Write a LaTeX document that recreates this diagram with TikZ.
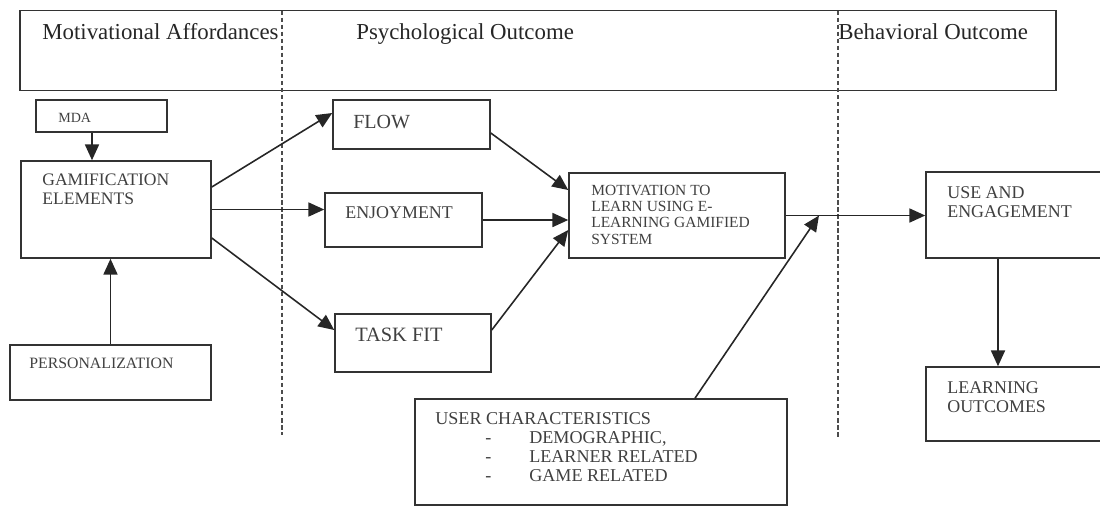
\documentclass[tikz,border=0pt]{standalone}
\usepackage{fontspec}
\setmainfont{Liberation Serif}
\usetikzlibrary{arrows.meta}
\begin{document}
\begin{tikzpicture}[x=0.02cm, y=-0.02cm,
  box/.style={draw=black!80, line width=0.9pt, rectangle, inner sep=0pt},
  txt/.style={anchor=north west, inner sep=0pt, align=left, text=black!75},
  headtxt/.style={anchor=base west, inner sep=0pt, text=black!85, font=\fontsize{13}{15}\selectfont},
  conn/.style={draw=black!85, line width=0.9pt, -{Triangle[length=9pt, width=8pt]}},
  divider/.style={draw=black!70, line width=0.8pt, dash pattern=on 2.5pt off 1.5pt},
  ]
  \useasboundingbox (0,0) rectangle (1100,508);
  \node[box, minimum width=20.72cm, minimum height=1.6cm] (hdr) at (538,50.5) {};
  \draw[divider] (282,10.5) -- (282,435);
  \draw[divider] (838,10.5) -- (838,438);
  \node[headtxt] (hmot) at (42,39) {Motivational Affordances};
  \node[headtxt] (hpsy) at (356,39) {Psychological Outcome};
  \node[headtxt] (hbeh) at (838,39) {Behavioral Outcome};
  \node[box, minimum width=2.62cm, minimum height=0.64cm] (mda) at (101.5,116) {};
  \node[box, minimum width=3.8cm, minimum height=1.94cm] (gam) at (116,209.5) {};
  \node[box, minimum width=4.02cm, minimum height=1.1cm] (pers) at (110.5,372.5) {};
  \node[box, minimum width=3.14cm, minimum height=0.98cm] (flow) at (411.5,124.5) {};
  \node[box, minimum width=3.14cm, minimum height=1.08cm] (enj) at (403.5,220) {};
  \node[box, minimum width=3.12cm, minimum height=1.16cm] (task) at (413,343) {};
  \node[box, minimum width=4.32cm, minimum height=1.7cm] (mot) at (677,215.5) {};
  \node[box, minimum width=7.44cm, minimum height=2.12cm] (user) at (601,452) {};
  \node[box, minimum width=3.54cm, minimum height=1.72cm] (use) at (1014.5,215) {};
  \node[box, minimum width=3.54cm, minimum height=1.48cm] (lo) at (1014.5,404) {};
  \node[txt, font=\fontsize{8}{9}\selectfont] (mdat) at (58,112.5) {MDA};
  \node[txt, font=\fontsize{10}{10.8}\selectfont] (gamt) at (42,174) {GAMIFICATION\\ELEMENTS};
  \node[txt, font=\fontsize{9}{10}\selectfont] (perst) at (29,358) {PERSONALIZATION};
  \node[txt, font=\fontsize{11.4}{12}\selectfont] (flowt) at (353,115) {FLOW};
  \node[txt, font=\fontsize{10.2}{11}\selectfont] (enjt) at (345,206) {ENJOYMENT};
  \node[txt, font=\fontsize{11.6}{12}\selectfont] (taskt) at (355,328) {TASK FIT};
  \node[txt, font=\fontsize{8.8}{9.2}\selectfont] (mott) at (591,185) {MOTIVATION TO\\LEARN USING E-\\LEARNING GAMIFIED\\SYSTEM};
  \node[txt, font=\fontsize{10.2}{10.8}\selectfont] (uset) at (947,186) {USE AND\\ENGAGEMENT};
  \node[txt, font=\fontsize{10.2}{10.8}\selectfont] (lot) at (947,381) {LEARNING\\OUTCOMES};
  \node[txt, font=\fontsize{10.3}{10.8}\selectfont] (usert) at (435,412) {USER CHARACTERISTICS\\
    \hspace*{1cm}\makebox[0.88cm][l]{-}DEMOGRAPHIC,\\
    \hspace*{1cm}\makebox[0.88cm][l]{-}LEARNER RELATED\\
    \hspace*{1cm}\makebox[0.88cm][l]{-}GAME RELATED};
  \coordinate (meet) at (819,215.5);
  \draw[conn] ([xshift=-0.19cm]mda.south) -- ([xshift=-0.19cm]mda.south |- gam.north);
  \draw[conn] (pers.north) -- (pers.north |- gam.south);
  \draw[conn] ([yshift=0.45cm]gam.east) -- ([yshift=0.23cm]flow.west);
  \draw[conn] (gam.east) -- (gam.east -| enj.west);
  \draw[conn] ([yshift=-0.57cm]gam.east) -- ([yshift=0.26cm]task.west);
  \draw[conn] ([yshift=-0.17cm]flow.east) -- ([yshift=0.51cm]mot.west);
  \draw[conn] (enj.east) -- (enj.east -| mot.west);
  \draw[conn] ([yshift=0.26cm]task.east) -- ([yshift=-0.29cm]mot.west);
  \draw[conn] (mot.east) -- (mot.east -| use.west);
  \draw[conn] ([xshift=1.88cm]user.north) -- (meet);
  \draw[conn] ([xshift=-0.33cm]use.south) -- ([xshift=-0.33cm]use.south |- lo.north);
\end{tikzpicture}
\end{document}
